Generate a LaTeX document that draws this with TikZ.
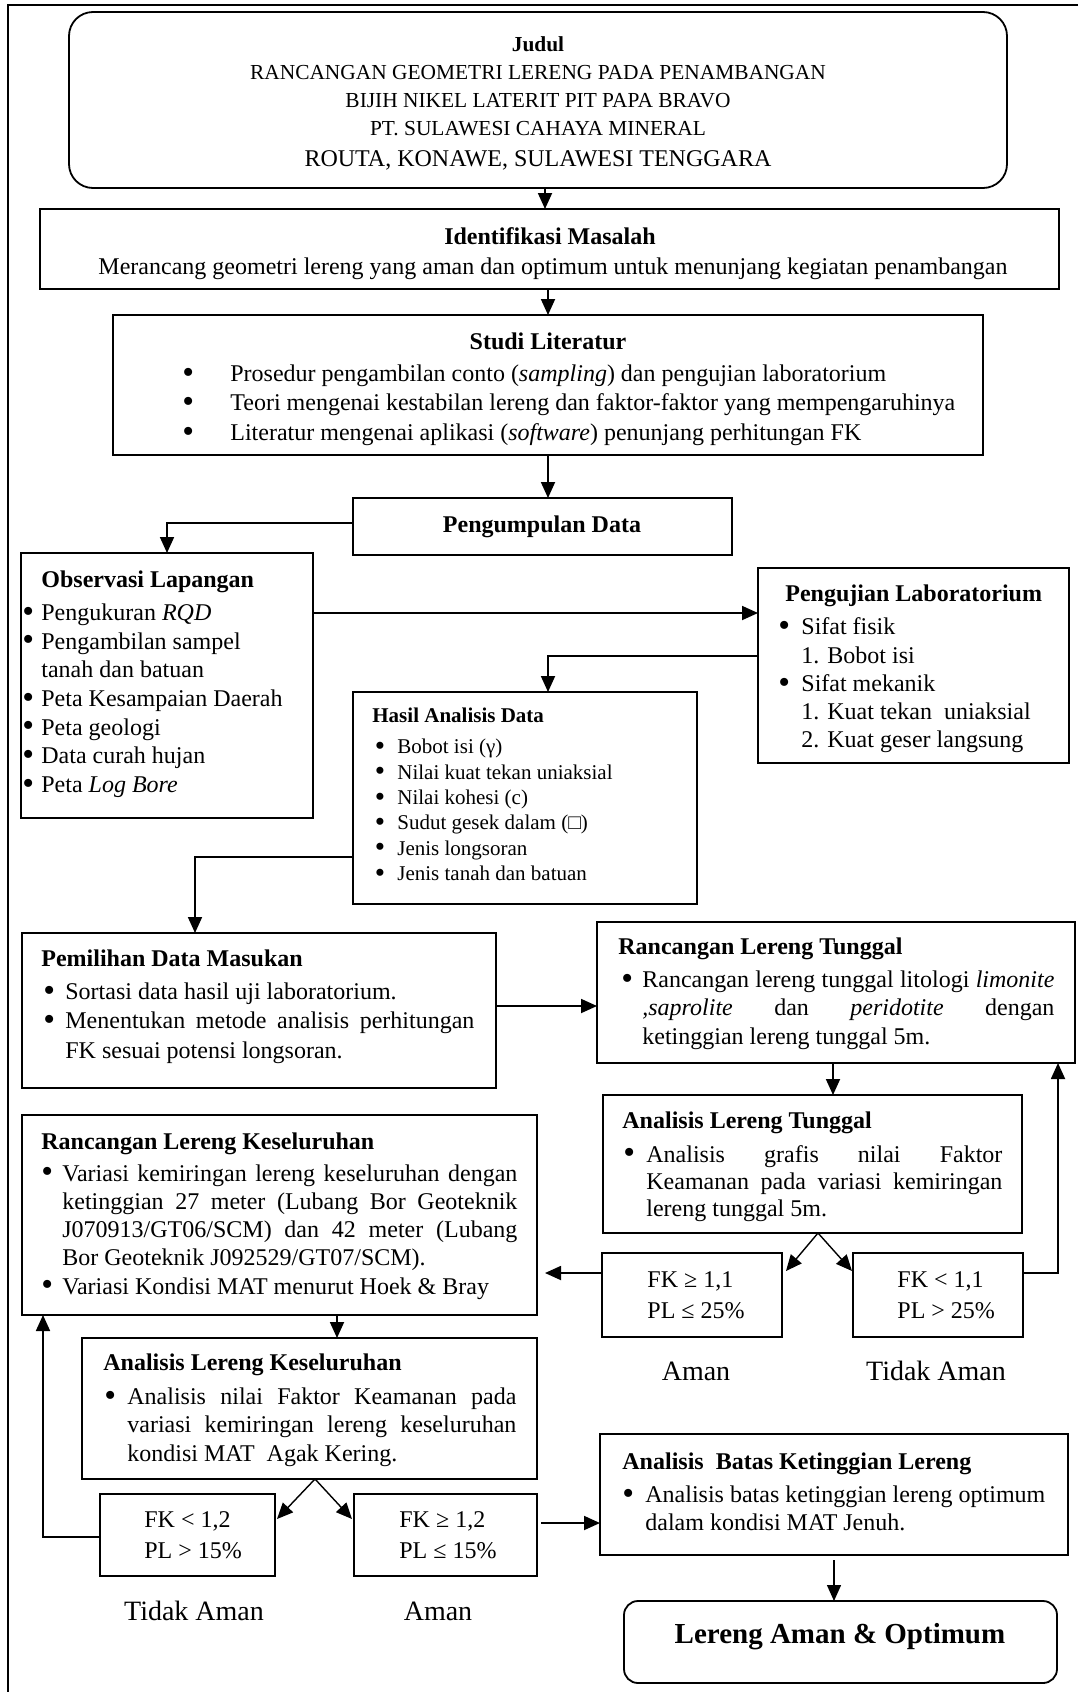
\documentclass[tikz,border=0pt]{standalone}
\usepackage{fontspec}
\usepackage{graphicx}
\setmainfont{Liberation Serif}
\usetikzlibrary{arrows.meta}
\newcommand\bdot{\raisebox{-0.07em}{\scalebox{1.4}{\textbullet}}}
\newcommand\bul[3]{\makebox[#2][l]{\hspace*{#1}\bdot}#3}
\newcommand\cnt[2]{\hspace*{#1}#2}
\newcommand\jus[2]{\makebox[#1][s]{#2}}
\begin{document}
\begin{tikzpicture}[x=0.5pt,y=-0.5pt,
  box/.style={draw, line width=0.9pt, anchor=north west, inner sep=0pt, outer sep=0pt},
  fkbox/.style={box, line width=0.6pt},
  txt/.style={anchor=north west, inner sep=0pt, align=left},
  ln/.style={anchor=base, inner sep=0pt},
  arr/.style={line width=0.9pt, -{Triangle[length=8pt,width=7pt]}},
  tarr/.style={line width=0.7pt, -{Triangle[length=8pt,width=7pt]}}]
\useasboundingbox (0,0) rectangle (1078,1692);
% frame
\draw[line width=1pt] (1078,5) -- (8,5) -- (8,1692);

% boxes
\node[box, rounded corners=12pt, minimum width=469pt, minimum height=88pt] (title) at (69,12) {};
\node[box, minimum width=509.5pt, minimum height=40pt] (ident) at (40,209) {};
\node[box, minimum width=435pt, minimum height=70pt] (studi) at (113,315) {};
\node[box, minimum width=189.5pt, minimum height=28.5pt] (pengum) at (353,498) {};
\node[box, minimum width=146pt, minimum height=132.5pt] (obs) at (21,553) {};
\node[box, minimum width=155.5pt, minimum height=97.5pt] (lab) at (758,568) {};
\node[box, minimum width=172pt, minimum height=106pt] (hasil) at (353,692) {};
\node[box, minimum width=237pt, minimum height=77.5pt] (pemil) at (22,933) {};
\node[box, minimum width=239pt, minimum height=70.5pt] (rlt) at (597,922) {};
\node[box, minimum width=209.5pt, minimum height=69pt] (alt) at (603,1095) {};
\node[fkbox, minimum width=90pt, minimum height=42pt] (fk1) at (602,1253) {};
\node[fkbox, minimum width=85pt, minimum height=42pt] (fk2) at (853,1253) {};
\node[box, minimum width=257.5pt, minimum height=100pt] (rk) at (22,1115) {};
\node[box, minimum width=227.5pt, minimum height=70.5pt] (ak) at (82,1338) {};
\node[fkbox, minimum width=87.5pt, minimum height=41pt] (fk3) at (100,1494) {};
\node[fkbox, minimum width=91.5pt, minimum height=41pt] (fk4) at (354,1494) {};
\node[box, minimum width=234pt, minimum height=60.5pt] (abk) at (600,1434) {};
\node[box, rounded corners=7pt, minimum width=216.5pt, minimum height=41pt] (final) at (624,1601) {};

% title texts
\node[ln, font=\fontsize{10.7}{13}\selectfont\bfseries] (tJ) at (538,51) {Judul};
\node[ln, font=\fontsize{10.7}{13}\selectfont] (t1) at (538,79) {RANCANGAN GEOMETRI LERENG PADA PENAMBANGAN};
\node[ln, font=\fontsize{10.7}{13}\selectfont] (t2) at (538,107) {BIJIH NIKEL LATERIT PIT PAPA BRAVO};
\node[ln, font=\fontsize{10.7}{13}\selectfont] (t3) at (538,135) {PT. SULAWESI CAHAYA MINERAL};
\node[ln, font=\fontsize{12}{14}\selectfont] (t4) at (538,166) {ROUTA, KONAWE, SULAWESI TENGGARA};

\node[ln, font=\fontsize{12}{14}\selectfont\bfseries] (iT) at (550,244) {Identifikasi Masalah};
\node[ln, font=\fontsize{12}{14}\selectfont] (iB) at (553,274) {Merancang geometri lereng yang aman dan optimum untuk menunjang kegiatan penambangan};

\node[ln, font=\fontsize{12}{14}\selectfont\bfseries] (sT) at (548,349) {Studi Literatur};
\node[txt, font=\fontsize{12}{14.75}\selectfont] (sB) at (182,360.4) {\strut\bul{0pt}{24pt}{Prosedur pengambilan conto (\textit{sampling}) dan pengujian laboratorium}\\
\bul{0pt}{24pt}{Teori mengenai kestabilan lereng dan faktor-faktor yang mempengaruhinya}\\
\bul{0pt}{24pt}{Literatur mengenai aplikasi (\textit{software}) penunjang perhitungan FK}};

\node[ln, font=\fontsize{12}{14}\selectfont\bfseries] (pT) at (542,532) {Pengumpulan Data};

\node[txt, font=\fontsize{12}{14.35}\selectfont] (obsT) at (22,566.9) {\strut\hspace*{9.5pt}\textbf{Observasi Lapangan}\\[2.15pt]
\bul{0pt}{9.5pt}{Pengukuran \textit{RQD}}\\
\bul{0pt}{9.5pt}{Pengambilan sampel}\\
\cnt{9.5pt}{tanah dan batuan}\\
\bul{0pt}{9.5pt}{Peta Kesampaian Daerah}\\
\bul{0pt}{9.5pt}{Peta geologi}\\
\bul{0pt}{9.5pt}{Data curah hujan}\\
\bul{0pt}{9.5pt}{Peta \textit{Log Bore}}};

\node[txt, font=\fontsize{12}{14.15}\selectfont] (labT) at (778,581.5) {\strut\hspace*{3.5pt}\textbf{Pengujian Laboratorium}\\[2.35pt]
\bul{0pt}{11.5pt}{Sifat fisik}\\
\cnt{11.5pt}{1. Bobot isi}\\
\bul{0pt}{11.5pt}{Sifat mekanik}\\
\cnt{11.5pt}{1. Kuat tekan\ \ uniaksial}\\
\cnt{11.5pt}{2. Kuat geser langsung}};

\node[txt, font=\fontsize{10.5}{12.7}\selectfont] (hasT) at (372,704.2) {\strut\textbf{Hasil Analisis Data}\\[3pt]
\bul{1.25pt}{12.5pt}{Bobot isi (γ)}\\
\bul{1.25pt}{12.5pt}{Nilai kuat tekan uniaksial}\\
\bul{1.25pt}{12.5pt}{Nilai kohesi (c)}\\
\bul{1.25pt}{12.5pt}{Sudut gesek dalam (□)}\\
\bul{1.25pt}{12.5pt}{Jenis longsoran}\\
\bul{1.25pt}{12.5pt}{Jenis tanah dan batuan}};

\node[txt, font=\fontsize{12}{14.65}\selectfont] (pemT) at (41,945.5) {\strut\textbf{Pemilihan Data Masukan}\\[1.85pt]
\bul{1pt}{12pt}{Sortasi data hasil uji laboratorium.}\\
\bul{1pt}{12pt}{\jus{204.5pt}{Menentukan metode analisis perhitungan}}\\
\cnt{12pt}{FK sesuai potensi longsoran.}};

\node[txt, font=\fontsize{12}{14.15}\selectfont] (rltT) at (618,934) {\strut\textbf{Rancangan Lereng Tunggal}\\[2.55pt]
\bul{1.5pt}{12pt}{\jus{206pt}{Rancangan lereng tunggal litologi \textit{limonite}}}\\
\cnt{12pt}{\jus{206pt}{\textit{,saprolite} dan \textit{peridotite} dengan}}\\
\cnt{12pt}{ketinggian lereng tunggal 5m.}};

\node[txt, font=\fontsize{12}{13.5}\selectfont] (altT) at (622,1108.8) {\strut\textbf{Analisis Lereng Tunggal}\\[3.5pt]
\bul{0.5pt}{12pt}{\jus{178pt}{Analisis grafis nilai Faktor}}\\
\cnt{12pt}{\jus{178pt}{Keamanan pada variasi kemiringan}}\\
\cnt{12pt}{lereng tunggal 5m.}};

\node[txt, font=\fontsize{12}{14.125}\selectfont] (rkT) at (41,1129) {\strut\textbf{Rancangan Lereng Keseluruhan}\\[1.9pt]
\bul{0pt}{10.5pt}{\jus{227.5pt}{Variasi kemiringan lereng keseluruhan dengan}}\\
\cnt{10.5pt}{\jus{227.5pt}{ketinggian 27 meter (Lubang Bor Geoteknik}}\\
\cnt{10.5pt}{\jus{227.5pt}{J070913/GT06/SCM) dan 42 meter (Lubang}}\\
\cnt{10.5pt}{Bor Geoteknik J092529/GT07/SCM).}\\
\bul{0pt}{10.5pt}{Variasi Kondisi MAT menurut Hoek \& Bray}};

\node[txt, font=\fontsize{12}{14.25}\selectfont] (akT) at (103,1350) {\strut\textbf{Analisis Lereng Keseluruhan}\\[2.75pt]
\bul{0.5pt}{12pt}{\jus{194.5pt}{Analisis nilai Faktor Keamanan pada}}\\
\cnt{12pt}{\jus{194.5pt}{variasi kemiringan lereng keseluruhan}}\\
\cnt{12pt}{kondisi MAT\ \ Agak Kering.}};

\node[txt, font=\fontsize{12}{14}\selectfont] (abkT) at (622,1449.5) {\strut\textbf{Analisis\ \ Batas Ketinggian Lereng}\\[2.5pt]
\bul{0pt}{11.5pt}{Analisis batas ketinggian lereng optimum}\\
\cnt{11.5pt}{dalam kondisi MAT Jenuh.}};

\node[txt, font=\fontsize{12}{15.5}\selectfont] (fk1T) at (647,1265.3) {\strut FK ≥ 1,1\\PL ≤ 25\%};
\node[txt, font=\fontsize{12}{15.5}\selectfont] (fk2T) at (897,1265.3) {\strut FK < 1,1\\PL > 25\%};
\node[txt, font=\fontsize{12}{15.5}\selectfont] (fk3T) at (144,1505.3) {\strut FK < 1,2\\PL > 15\%};
\node[txt, font=\fontsize{12}{15.5}\selectfont] (fk4T) at (399,1505.3) {\strut FK ≥ 1,2\\PL ≤ 15\%};

\node[ln, font=\fontsize{14}{16}\selectfont] (lb1) at (696,1380) {Aman};
\node[ln, font=\fontsize{14}{16}\selectfont] (lb2) at (936,1380) {Tidak Aman};
\node[ln, font=\fontsize{14}{16}\selectfont] (lb3) at (194,1620) {Tidak Aman};
\node[ln, font=\fontsize{14}{16}\selectfont] (lb4) at (438,1620) {Aman};

\node[ln, font=\fontsize{14.5}{17}\selectfont\bfseries] (finT) at (840,1643) {Lereng Aman \& Optimum};

% connectors
\coordinate (xA) at (545,0);
\coordinate (xB) at (548,0);
\coordinate (p4) at (167,523);
\coordinate (p5) at (0,613);
\coordinate (p6) at (548,656);
\coordinate (p7) at (195,857);
\coordinate (p8) at (0,1006);
\coordinate (p9) at (833,0);
\coordinate (p10) at (818,0);
\coordinate (e1) at (786,1271);
\coordinate (e2) at (852,1271);
\coordinate (p11) at (0,1273);
\coordinate (p12) at (1058,0);
\coordinate (p13) at (337,0);
\coordinate (p14) at (315,0);
\coordinate (e3) at (277,1519);
\coordinate (e4) at (352,1519);
\coordinate (p15) at (43,1537);
\coordinate (p16) at (0,1523);
\coordinate (p17) at (834,0);

\draw[arr] (title.south -| xA) -- (ident.north -| xA);
\draw[arr] (ident.south -| xB) -- (studi.north -| xB);
\draw[arr] (studi.south -| xB) -- (pengum.north -| xB);
\draw[arr] (pengum.west |- p4) -| (obs.north -| p4);
\draw[arr] (obs.east |- p5) -- (lab.west |- p5);
\draw[arr] (lab.west |- p6) -| (hasil.north -| p6);
\draw[arr] (hasil.west |- p7) -| (pemil.north -| p7);
\draw[arr] (pemil.east |- p8) -- (rlt.west |- p8);
\draw[arr] (rlt.south -| p9) -- (alt.north -| p9);
\draw[tarr] (alt.south -| p10) -- (e1);
\draw[tarr] (alt.south -| p10) -- (e2);
\draw[arr, shorten >=4pt] (fk1.west |- p11) -- (rk.east |- p11);
\draw[arr] (fk2.east |- p11) -| (rlt.south -| p12);
\draw[arr] (rk.south -| p13) -- (ak.north -| p13);
\draw[tarr] (ak.south -| p14) -- (e3);
\draw[tarr] (ak.south -| p14) -- (e4);
\draw[arr] (fk3.west |- p15) -| (rk.south -| p15);
\draw[arr, shorten <=2pt] (fk4.east |- p16) -- (abk.west |- p16);
\draw[tarr, shorten <=2.5pt] (abk.south -| p17) -- (final.north -| p17);
\end{tikzpicture}
\end{document}
